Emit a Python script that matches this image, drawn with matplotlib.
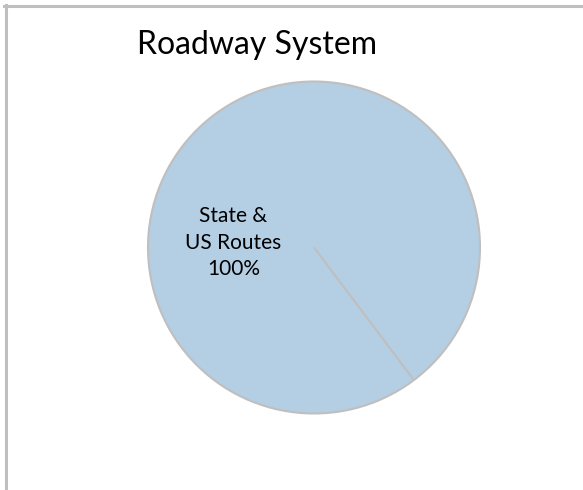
import matplotlib
matplotlib.use("Agg")
import matplotlib.pyplot as plt
from matplotlib.lines import Line2D

# Data
categories = ["State & US Routes", "Other Roads"]
values = [100, 0]
label_text = "State &\nUS Routes\n100%"
title = "Roadway System"

W, H = 583, 490
fig = plt.figure(figsize=(W / 100, H / 100), dpi=100)
fig.patch.set_facecolor("white")

font = ["Lato", "DejaVu Sans"]

# chart border (top and left visible)
border = "#BFBFBF"
fig.add_artist(Line2D([4 / W, 1.0], [1 - 6.5 / H, 1 - 6.5 / H], color=border, lw=2.2,
                      transform=fig.transFigure))
fig.add_artist(Line2D([5.5 / W, 5.5 / W], [1 - 5 / H, 0.0], color=border, lw=2.2,
                      transform=fig.transFigure))

cx, cy, r = 314, 247.5, 166
ax = fig.add_axes([(cx - r) / W, (H - cy - r) / H, 2 * r / W, 2 * r / H])
wedges, _ = ax.pie(values, startangle=-53, colors=["#B4CEE4", "#B4CEE4"],
                   wedgeprops=dict(edgecolor="#BFBFBF", linewidth=1.5))
for w in wedges:
    w.set_clip_on(False)
ax.set_xlim(-1, 1)
ax.set_ylim(-1, 1)
ax.set_aspect("equal")
ax.axis("off")

ax.text(-0.485, 0.03, label_text, ha="center", va="center", fontsize=15,
        family=font, linespacing=1.42, color="#000000")

fig.text(257 / W, 1 - 54 / H, title, ha="center", va="baseline", fontsize=23,
         family=font, color="#000000")

fig.savefig("out.png", dpi=100)
